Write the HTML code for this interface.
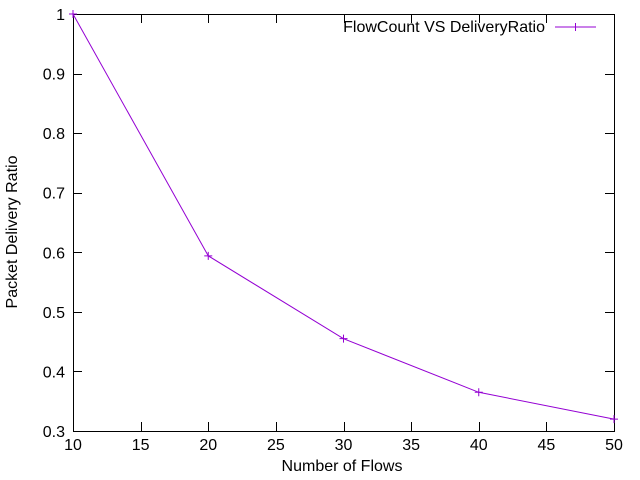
<!DOCTYPE html>
<html><head><meta charset="utf-8"><style>
html,body{margin:0;padding:0;background:#fff;}
svg{display:block;font-family:"Liberation Sans",sans-serif;}
</style></head><body>
<svg id="chart" width="640" height="480" xmlns="http://www.w3.org/2000/svg">
<rect width="640" height="480" fill="#fff"/>
<g id="axes"></g>
<g id="series"></g>
<text x="342" y="471" font-size="16" text-anchor="middle">Number of Flows</text>
<text transform="translate(17,232) rotate(-90)" font-size="16" text-anchor="middle">Packet Delivery Ratio</text>
<g>
<text x="545" y="32" font-size="16" text-anchor="end">FlowCount VS DeliveryRatio</text>
<line x1="555" y1="27" x2="596" y2="27" stroke="#9400d3" stroke-width="1"/>
<path d="M571.5 27h8M575.5 23v8" stroke="#9400d3" stroke-width="1"/>
</g>
</svg>
<script>
const flows = [10, 20, 30, 40, 50];
const deliveryRatio = [1.0, 0.594, 0.455, 0.365, 0.32];
const xTicks = [10, 15, 20, 25, 30, 35, 40, 45, 50];
const yTicks = [0.3, 0.4, 0.5, 0.6, 0.7, 0.8, 0.9, 1];

const L=73,R=614,T=14,B=431;
const xMin=10,xMax=50,yMin=0.3,yMax=1;
const sx=v=>L+(v-xMin)/(xMax-xMin)*(R-L);
const sy=v=>B-(v-yMin)/(yMax-yMin)*(B-T);
const NS="http://www.w3.org/2000/svg";
const axes=document.getElementById('axes');
const series=document.getElementById('series');
function mk(tag,attrs,parent){const e=document.createElementNS(NS,tag);for(const k in attrs)e.setAttribute(k,attrs[k]);parent.appendChild(e);return e;}

const border=mk('rect',{x:L+0.5,y:T+0.5,width:R-L,height:B-T,fill:'none',stroke:'#000','stroke-width':1},axes);



xTicks.forEach(v=>{
  const x=Math.round(sx(v))+0.5;
  const t=mk('path',{d:`M${x} ${B}v-9M${x} ${T}v9`,stroke:'#000','stroke-width':1},axes);
  
  
  const lb=mk('text',{x:sx(v),y:B+19,'font-size':16,'text-anchor':'middle'},axes);
  lb.textContent=String(v);
  
  
});
yTicks.forEach(v=>{
  const y=Math.round(sy(v))+0.5;
  const t=mk('path',{d:`M${L} ${y}h9M${R} ${y}h-9`,stroke:'#000','stroke-width':1},axes);
  
  
  const lb=mk('text',{x:L-8,y:sy(v)+6,'font-size':16,'text-anchor':'end'},axes);
  lb.textContent=String(v);
  
  
});

const pts=flows.map((f,i)=>[sx(f),sy(deliveryRatio[i])]);
const line=mk('polyline',{points:pts.map(p=>p.join(',')).join(' '),fill:'none',stroke:'#9400d3','stroke-width':1},series);


pts.forEach(p=>{
  const m=mk('path',{d:`M${p[0]-4} ${p[1]}h8M${p[0]} ${p[1]-4}v8`,stroke:'#9400d3','stroke-width':1},series);
  
  
});
</script>
</body></html>
